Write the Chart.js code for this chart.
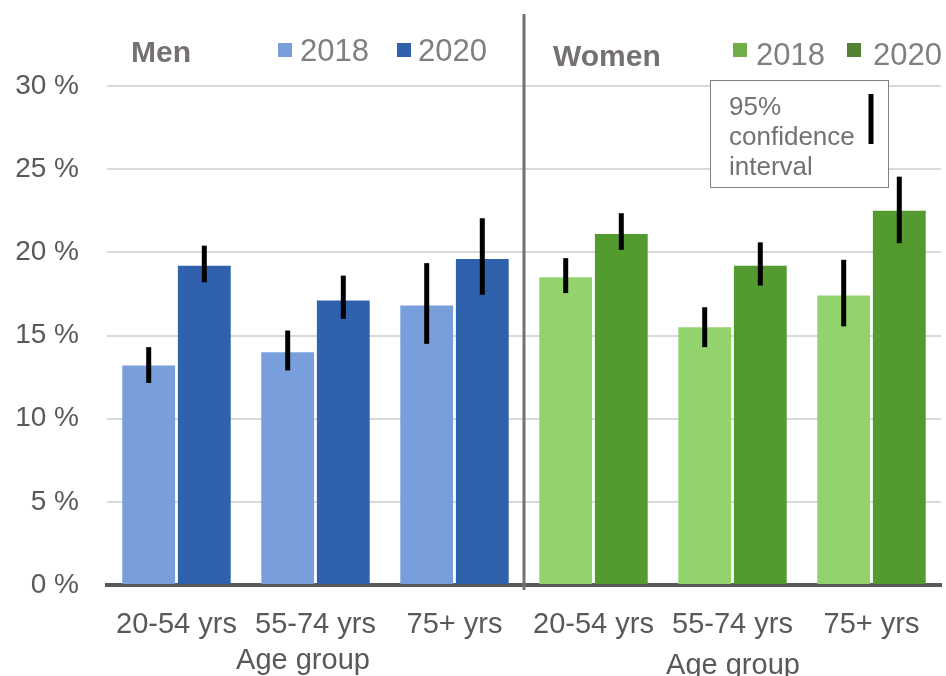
<!DOCTYPE html>
<html>
<head>
<meta charset="utf-8">
<script src="https://cdn.jsdelivr.net/npm/chart.js@4.4.1/dist/chart.umd.min.js"></script>
<style>
  html, body { margin: 0; padding: 0; background: #fff; }
</style>
</head>
<body>
<canvas id="chart" width="946" height="676"></canvas>
<script>
// Share of people (%) by sex and age group, 2018 vs 2020, with 95% CI
const ageGroups = ['20-54 yrs', '55-74 yrs', '75+ yrs', '20-54 yrs', '55-74 yrs', '75+ yrs'];
const sexes = ['Men', 'Women'];
const years = ['2018', '2020'];

const share2018 = [13.2, 14.0, 16.8, 18.5, 15.5, 17.4];
const share2020 = [19.2, 17.1, 19.6, 21.1, 19.2, 22.5];

const ciLow2018 = [12.15, 12.9, 14.5, 17.55, 14.3, 15.55];
const ciHigh2018 = [14.3, 15.3, 19.35, 19.65, 16.7, 19.55];
const ciLow2020 = [18.2, 16.0, 17.45, 20.15, 18.0, 20.55];
const ciHigh2020 = [20.4, 18.6, 22.05, 22.35, 20.6, 24.55];

const yTicks = [0, 5, 10, 15, 20, 25, 30];

const FONT = '"Liberation Sans", Arial, sans-serif';

// bar colours: first three categories are men (blue), last three women (green)
const bars2018 = ['#789FDB', '#789FDB', '#789FDB', '#92D36E', '#92D36E', '#92D36E'];
const bars2020 = ['#2F61AD', '#2F61AD', '#2F61AD', '#539A2F', '#539A2F', '#539A2F'];
const legendColors = {
  Men: ['#789FDB', '#2F61AD'],
  Women: ['#70AD47', '#548235']
};

// Error bars (confidence intervals)
const ciPlugin = {
  id: 'ciBars',
  afterDatasetsDraw(chart) {
    const { ctx, scales: { y } } = chart;
    const lows = [ciLow2018, ciLow2020];
    const highs = [ciHigh2018, ciHigh2020];
    ctx.save();
    ctx.strokeStyle = '#000';
    ctx.lineWidth = 5;
    chart.data.datasets.forEach((ds, i) => {
      chart.getDatasetMeta(i).data.forEach((bar, j) => {
        ctx.beginPath();
        ctx.moveTo(bar.x, y.getPixelForValue(lows[i][j]));
        ctx.lineTo(bar.x, y.getPixelForValue(highs[i][j]));
        ctx.stroke();
      });
    });
    ctx.restore();
  }
};

// Divider, group headers, legends, axis titles, CI key box
const decorPlugin = {
  id: 'decor',
  afterDatasetsDraw(chart) {
    const { ctx, scales: { x }, chartArea } = chart;

    // vertical divider between men and women
    const divX = (x.getPixelForValue(2) + x.getPixelForValue(3)) / 2;
    ctx.save();
    ctx.strokeStyle = '#767171';
    ctx.lineWidth = 3;
    ctx.beginPath();
    ctx.moveTo(divX, 14);
    ctx.lineTo(divX, chartArea.bottom + 5);
    ctx.stroke();

    // headers + legends
    const groups = [
      { name: sexes[0], nameX: 131, y: 62, sw: [278, 397], tx: [300, 418] },
      { name: sexes[1], nameX: 553, y: 66, sw: [733, 847], tx: [756, 873] }
    ];
    groups.forEach(g => {
      ctx.fillStyle = '#767171';
      ctx.font = 'bold 30px ' + FONT;
      ctx.textBaseline = 'alphabetic';
      ctx.textAlign = 'left';
      ctx.fillText(g.name, g.nameX, g.y);
      years.forEach((yr, k) => {
        ctx.fillStyle = legendColors[g.name][k];
        ctx.fillRect(g.sw[k], 43, 14, 14);
        ctx.fillStyle = '#7F7F7F';
        ctx.font = '31px ' + FONT;
        ctx.fillText(yr, g.tx[k], g.y - 1);
      });
    });

    // axis titles under each group
    ctx.fillStyle = '#595959';
    ctx.font = '29px ' + FONT;
    ctx.textAlign = 'center';
    ctx.fillText('Age group', 303, 669);
    ctx.fillText('Age group', 733, 674);

    // confidence interval key
    ctx.fillStyle = '#fff';
    ctx.fillRect(710, 80, 179, 108);
    ctx.strokeStyle = '#7F7F7F';
    ctx.lineWidth = 1;
    ctx.strokeRect(710.5, 80.5, 178, 107);
    ctx.fillStyle = '#767171';
    ctx.font = '26px ' + FONT;
    ctx.textAlign = 'left';
    ctx.fillText('95%', 729, 115);
    ctx.fillText('confidence', 729, 145);
    ctx.fillText('interval', 729, 175);
    ctx.strokeStyle = '#000';
    ctx.lineWidth = 5;
    ctx.beginPath();
    ctx.moveTo(871, 94);
    ctx.lineTo(871, 144);
    ctx.stroke();
    ctx.restore();
  }
};

new Chart(document.getElementById('chart'), {
  type: 'bar',
  data: {
    labels: ageGroups,
    datasets: [
      { label: years[0], data: share2018, backgroundColor: bars2018 },
      { label: years[1], data: share2020, backgroundColor: bars2020 }
    ]
  },
  options: {
    responsive: false,
    devicePixelRatio: 1,
    animation: false,
    categoryPercentage: 0.8,
    barPercentage: 0.95,
    layout: { padding: { top: 86, right: 5, left: 0, bottom: 0 } },
    plugins: {
      legend: { display: false },
      tooltip: { enabled: false }
    },
    scales: {
      x: {
        afterFit: s => { s.height = 91; },
        grid: { display: false, drawTicks: false },
        border: { display: true, color: '#595959', width: 4 },
        ticks: { color: '#595959', font: { family: FONT, size: 29 }, padding: 23, maxRotation: 0, autoSkip: false }
      },
      y: {
        min: 0,
        max: 30,
        afterFit: s => { s.width = 107; },
        afterBuildTicks: s => { s.ticks = yTicks.map(v => ({ value: v })); },
        grid: { color: '#D9D9D9', lineWidth: 2, drawTicks: false },
        border: { display: false },
        ticks: {
          color: '#595959',
          font: { family: FONT, size: 28 },
          padding: 28,
          callback: v => v + ' %'
        }
      }
    }
  },
  plugins: [ciPlugin, decorPlugin]
});
</script>
</body>
</html>
